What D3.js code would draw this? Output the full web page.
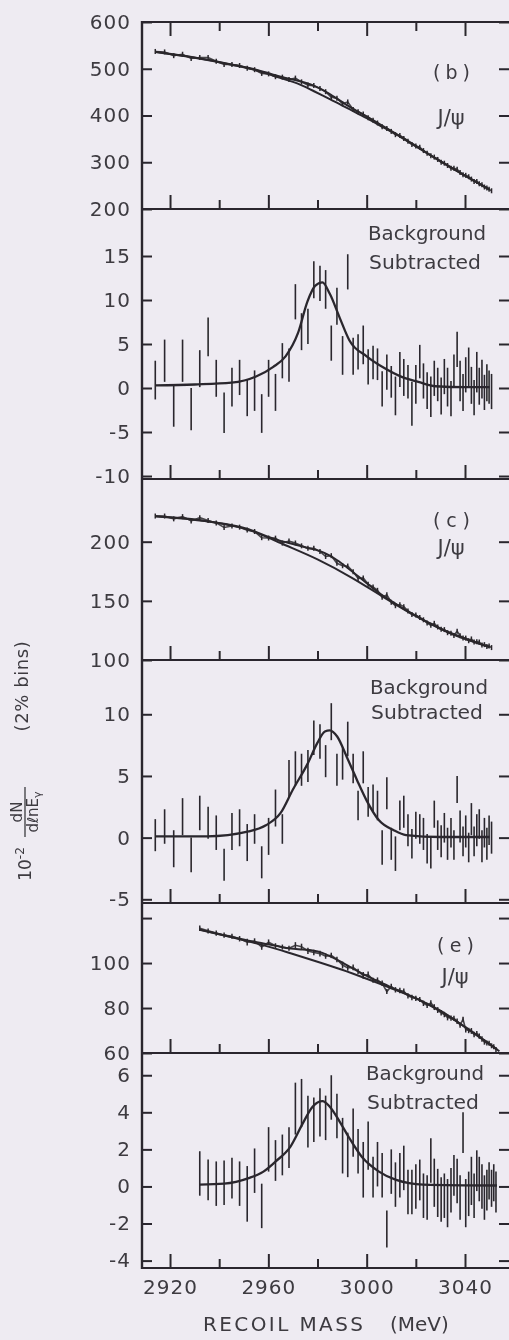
<!DOCTYPE html>
<html><head><meta charset="utf-8">
<script src="https://cdn.jsdelivr.net/npm/d3@7"></script>
<style>
html,body{margin:0;padding:0;background:#eeebf2;}
svg{display:block;}
</style></head><body>
<svg id="chart" width="509" height="1340"></svg>
<script>
// ---------------- DATA ----------------
// x axis ticks (recoil mass, MeV)
const xMajorTicks = [2920, 2960, 3000, 3040];
const xMinorTicks = [2940, 2980, 3020];
// y tick values / labels
const yTicksB = [200, 300, 400, 500, 600];
const yTicksBSub = [-10, -5, 0, 5, 10, 15];
const yTicksC = [100, 150, 200];
const yTicksCSub = [-5, 0, 5, 10];
const yTicksE = [60, 80, 100, 120];
const yLabelsE = [60, 80, 100];
const yTicksESub = [-4, -2, 0, 2, 4, 6];
const panelTags = ["(b)", "(c)", "(e)"];

// bin centres (2% bins in photon energy), samples (b) and (c)
const massBC = [
 2914.0, 2917.8, 2921.5, 2925.1, 2928.6, 2932.1, 2935.5, 2938.8, 2942.0, 2945.2,
 2948.3, 2951.4, 2954.4, 2957.3, 2960.1, 2962.9, 2965.7, 2968.4, 2971.0, 2973.5,
 2976.1, 2978.5, 2981.0, 2983.3, 2985.6, 2987.9, 2990.2, 2992.3, 2994.5, 2996.5,
 2998.6, 3000.6, 3002.6, 3004.4, 3006.3, 3008.2, 3010.0, 3011.7, 3013.5, 3015.1,
 3016.8, 3018.4, 3020.0, 3021.6, 3023.1, 3024.6, 3026.1, 3027.5, 3028.9, 3030.3,
 3031.6, 3032.9, 3034.3, 3035.5, 3036.8, 3038.0, 3039.2, 3040.3, 3041.5, 3042.6,
 3043.7, 3044.8, 3045.8, 3046.9, 3047.9, 3048.9, 3049.8, 3050.8];
// bin centres, sample (e)
const massE = [
 2932.1, 2935.5, 2938.8, 2942.0, 2945.2, 2948.3, 2951.4, 2954.4, 2957.3, 2960.1,
 2962.9, 2965.7, 2968.4, 2971.0, 2973.5, 2976.1, 2978.5, 2981.0, 2983.3, 2985.6,
 2987.9, 2990.2, 2992.3, 2994.5, 2996.5, 2998.6, 3000.6, 3002.6, 3004.4, 3006.3,
 3008.2, 3010.0, 3011.7, 3013.5, 3015.1, 3016.8, 3018.4, 3020.0, 3021.6, 3023.1,
 3024.6, 3026.1, 3027.5, 3028.9, 3030.3, 3031.6, 3032.9, 3034.3, 3035.5, 3036.8,
 3038.0, 3039.2, 3040.3, 3041.5, 3042.6, 3043.7, 3044.8, 3045.8, 3046.9, 3047.9,
 3048.9, 3049.8, 3050.8, 3051.7, 3052.6];

// (b) raw spectrum
const rawB = [
 537, 536, 528, 531, 522, 524, 524, 516, 509, 509,
 507, 501, 498, 490, 489, 483, 482, 477, 480, 472,
 465, 464, 458, 451, 439, 437, 425, 429, 413, 408,
 403, 395, 390, 384, 376, 372, 366, 359, 357, 351,
 345, 338, 335, 332, 325, 319, 314, 311, 306, 300,
 298, 293, 287, 287, 285, 278, 273, 272, 269, 264,
 259, 259, 254, 252, 247, 245, 242, 239];
// (b) background subtracted
const subB = [
 0.9, 3.1, -2.0, 3.1, -2.4, 2.2, 5.8, 1.1, -2.8, 0.1,
 1.2, -1.1, -0.3, -2.9, 1.1, -0.5, 3.1, 2.6, 9.8, 6.4,
 7.0, 12.3, 11.9, 11.2, 5.1, 9.3, 3.7, 13.2, 3.6, 4.1,
 4.9, 2.4, 2.9, 2.7, -0.1, 1.8, 0.7, -0.9, 2.1, 1.2,
 0.7, -1.8, 0.4, 3.0, 0.8, -0.3, -1.0, 1.1, 0.4, -0.9,
 1.3, 0.1, -1.2, 1.9, 4.4, 0.8, -0.5, 1.5, 2.4, 0.3,
 -1.1, 1.8, 0.2, 1.0, -0.5, 0.6, 0.1, -0.4];
const errB = [
 2.2, 2.4, 2.4, 2.4, 2.4, 2.1, 2.2, 2.1, 2.3, 2.2,
 2.0, 2.1, 2.3, 2.2, 2.1, 2.1, 2.0, 1.9, 2.0, 2.1,
 2.0, 2.1, 2.0, 2.2, 2.0, 2.1, 2.2, 2.0, 2.1, 2.0,
 2.2, 2.0, 1.9, 1.8, 2.0, 2.0, 1.8, 2.2, 2.0, 2.1,
 1.9, 2.5, 2.2, 1.9, 2.0, 2.1, 2.3, 2.0, 1.9, 2.1,
 2.0, 2.2, 2.0, 1.9, 2.0, 2.3, 2.1, 2.0, 2.2, 2.1,
 2.0, 2.3, 2.1, 2.2, 2.0, 2.1, 1.9, 2.0];
// (b) fit curves
const fitMassB = [2914, 2930, 2945, 2955, 2962, 2967, 2972, 2976, 2979, 2982, 2985, 2989, 2993, 3000, 3007, 3014, 3021, 3028, 3040, 3050];
const fitB   = [0.3, 0.4, 0.6, 1.3, 2.4, 3.6, 6.2, 9.9, 11.6, 12.0, 10.7, 8.0, 5.4, 3.6, 2.3, 1.3, 0.7, 0.2, 0.1, 0.1];
const totalB = [536.3, 524.0, 509.3, 498.1, 487.5, 480.3, 474.5, 468.5, 462.4, 455.0, 445.9, 432.3, 418.8, 397.9, 376.2, 354.7, 331.6, 308.7, 271.5, 241.4];
const bgMassB = [2914, 2930, 2945, 2955, 2962, 2967, 2972, 2976, 2979, 2982, 2985, 2989, 2993, 3000, 3007, 3014, 3021, 3028, 3040, 3050];
const bgB    = [536.0, 523.6, 508.7, 496.8, 485.1, 476.7, 468.3, 458.6, 450.8, 443.0, 435.2, 424.3, 413.4, 394.3, 373.9, 353.4, 330.9, 308.5, 271.4, 241.3];

// (c) raw spectrum
const rawC = [
 221.7, 221.7, 219.3, 221.2, 217.5, 220.3, 218.0, 215.9, 212.0, 213.3,
 212.3, 209.8, 208.6, 203.4, 203.1, 203.0, 198.8, 200.5, 198.9, 196.5,
 194.4, 194.5, 191.7, 187.5, 188.2, 181.8, 179.7, 179.4, 174.5, 168.9,
 169.4, 164.0, 161.8, 158.9, 153.1, 155.1, 148.8, 145.9, 146.8, 145.1,
 141.5, 138.4, 138.0, 136.0, 134.0, 131.2, 129.4, 131.0, 127.9, 125.9,
 125.7, 123.1, 122.7, 120.8, 124.4, 120.5, 118.5, 118.5, 116.3, 117.8,
 115.3, 115.4, 115.2, 112.6, 113.0, 111.4, 111.8, 110.5];
const subC = [
 0.2, 0.9, -0.9, 1.7, -1.4, 2.0, 1.2, 0.4, -2.2, 0.5,
 0.8, -0.4, 0.7, -2.0, 0.1, 2.4, 0.7, 4.8, 5.6, 5.5,
 5.8, 8.1, 7.8, 6.2, 9.4, 5.5, 6.0, 8.0, 5.6, 2.6,
 5.7, 2.9, 3.2, 2.6, -0.8, 3.6, -0.5, -1.3, 1.8, 2.1,
 0.6, -0.5, 1.0, 0.7, 0.3, -0.9, -1.2, 1.9, 0.2, -0.3,
 0.8, -0.5, 0.4, -0.6, 3.9, 0.9, -0.3, 0.5, -0.8, 1.5,
 -0.3, 0.6, 1.1, -0.7, 0.4, -0.5, 0.6, 0.0];
const errC = [
 1.3, 1.4, 1.5, 1.5, 1.4, 1.4, 1.3, 1.4, 1.3, 1.5,
 1.5, 1.5, 1.2, 1.3, 1.5, 1.5, 1.2, 1.5, 1.4, 1.3,
 1.3, 1.4, 1.4, 1.3, 1.5, 1.3, 1.3, 1.4, 1.2, 1.2,
 1.3, 1.2, 1.1, 1.2, 1.4, 1.3, 1.3, 1.4, 1.2, 1.3,
 1.3, 1.2, 1.1, 1.2, 1.3, 1.2, 1.3, 1.1, 1.2, 1.3,
 1.2, 1.3, 1.2, 1.2, 1.1, 1.3, 1.2, 1.3, 1.2, 1.3,
 1.2, 1.3, 1.2, 1.3, 1.2, 1.3, 1.2, 1.3];
const fitMassC = [2914, 2935, 2952, 2959, 2965, 2970, 2976, 2980, 2983, 2985, 2988, 2992, 2996, 3000, 3005, 3011, 3016, 3030, 3050];
const fitC   = [0.1, 0.1, 0.5, 1.0, 2.0, 3.9, 6.0, 7.7, 8.6, 8.7, 8.2, 6.5, 4.7, 3.0, 1.4, 0.6, 0.2, 0.05, 0.05];
const totalC = [221.6, 217.2, 210.5, 204.9, 200.7, 198.1, 194.7, 192.7, 190.3, 188.2, 184.3, 178.2, 171.7, 164.9, 156.9, 148.7, 142.1, 126.65, 111.05];
const bgMassC = [2914, 2932, 2952, 2967, 2980, 2994, 3007, 3020, 3034, 3050];
const bgC    = [221.5, 218.3, 210.0, 197.0, 185.0, 169.5, 153.0, 137.0, 122.5, 111.0];

// (e) raw spectrum
const rawE = [
 115.5, 114.3, 113.3, 112.4, 111.9, 110.8, 109.3, 109.8, 107.1, 109.3,
 107.7, 107.1, 106.6, 107.9, 107.3, 105.4, 104.7, 104.2, 103.1, 103.4,
 101.6, 99.1, 97.8, 98.1, 96.3, 94.5, 94.9, 92.4, 92.4, 91.0,
 87.3, 89.6, 88.1, 87.8, 87.5, 85.4, 84.7, 84.3, 83.8, 82.1,
 81.2, 82.3, 80.4, 79.1, 77.9, 77.1, 75.8, 75.5, 75.4, 74.1,
 72.4, 75.0, 70.4, 70.0, 69.8, 68.2, 68.7, 67.5, 66.2, 64.9,
 64.5, 64.3, 63.2, 62.8, 61.6];
const subE = [
 0.7, 0.35, 0.15, 0.2, 0.45, 0.15, -0.4, 0.85, -1.05, 2.0,
 1.4, 1.7, 2.1, 4.2, 4.5, 3.5, 3.6, 4.0, 3.7, 4.8,
 3.8, 2.2, 1.7, 2.9, 1.9, 0.9, 2.2, 0.5, 1.2, 0.6,
 -2.3, 0.8, 0.1, 0.6, 1.0, -0.3, -0.3, 0.0, 0.35, -0.5,
 -0.6, 1.4, 0.2, -0.35, -0.7, -0.5, -0.9, -0.2, 0.6, 0.3,
 -0.6, 2.9, -0.9, -0.4, 0.3, -0.5, 0.85, 0.4, 0.0, -0.6,
 -0.2, 0.3, -0.1, 0.2, -0.3];
const errE = [
 1.2, 1.1, 1.2, 1.2, 1.1, 1.2, 1.5, 1.2, 1.2, 1.2,
 1.1, 1.1, 1.1, 1.4, 1.3, 1.4, 1.2, 1.3, 1.2, 1.2,
 1.2, 1.5, 1.2, 1.3, 1.2, 1.5, 1.3, 1.1, 1.2, 1.2,
 1.0, 1.2, 1.2, 1.2, 1.2, 1.2, 1.2, 1.2, 1.1, 1.2,
 1.2, 1.2, 1.3, 1.3, 1.2, 1.2, 1.3, 1.2, 1.1, 1.2,
 1.2, 1.1, 1.3, 1.2, 1.3, 1.2, 1.1, 1.2, 1.2, 1.2,
 1.1, 1.0, 1.0, 1.0, 1.1];
const fitMassE = [2932, 2942, 2952, 2958, 2963, 2969, 2974, 2978, 2982, 2985, 2989, 2993, 2998, 3005, 3012, 3023, 3053];
const fitE   = [0.1, 0.15, 0.45, 0.8, 1.35, 2.15, 3.4, 4.3, 4.6, 4.3, 3.5, 2.6, 1.6, 0.8, 0.35, 0.1, 0.05];
const totalE = [114.9, 112.35, 109.95, 108.7, 107.65, 106.45, 106.0, 105.6, 104.5, 103.1, 100.9, 98.4, 95.4, 91.7, 88.25, 82.75, 61.65];
const bgMassE = [2932, 2946, 2960, 2970, 2980, 2990, 3000, 3010, 3020, 3030, 3040, 3054];
const bgE    = [114.8, 111.2, 107.3, 104.0, 100.6, 97.0, 93.0, 88.8, 84.3, 78.8, 71.5, 60.8];

// ---------------- DRAWING ----------------
const W = 509, H = 1340;
const INK = "#2a282d", TXT = "#3c3a40", BG = "#eeebf2";
const FONT = "DejaVu Sans";
const LEFT = 142, RIGHT = 509;

const svg = d3.select("#chart");
svg.append("rect").attr("width", W).attr("height", H).attr("fill", BG);
const defs = svg.append("defs");
defs.append("filter").attr("id", "soft").append("feGaussianBlur").attr("stdDeviation", 0.35);

const x = d3.scaleLinear().domain([2908.6, 3057.9]).range([LEFT, RIGHT]);

const layout = [
  {top: 22,   bot: 209,  dom: [200, 600]},
  {top: 209,  bot: 479,  dom: [-10.34, 20.34]},
  {top: 479,  bot: 660,  dom: [100, 253]},
  {top: 660,  bot: 903,  dom: [-5.3, 14.4]},
  {top: 903,  bot: 1053, dom: [60, 126.7]},
  {top: 1053, bot: 1268, dom: [-4.4, 7.2]}
];

const sets = [
  {mass: massBC, raw: rawB, sub: subB, err: errB, bgM: bgMassB, bg: bgB, fitM: fitMassB, fit: fitB, tot: totalB,
   rawTicks: yTicksB, rawLabels: yTicksB, subTicks: yTicksBSub, subLabels: yTicksBSub, tag: panelTags[0]},
  {mass: massBC, raw: rawC, sub: subC, err: errC, bgM: bgMassC, bg: bgC, fitM: fitMassC, fit: fitC, tot: totalC,
   rawTicks: yTicksC, rawLabels: yTicksC, subTicks: yTicksCSub, subLabels: yTicksCSub, tag: panelTags[1]},
  {mass: massE, raw: rawE, sub: subE, err: errE, bgM: bgMassE, bg: bgE, fitM: fitMassE, fit: fitE, tot: totalE,
   rawTicks: yTicksE, rawLabels: yLabelsE, subTicks: yTicksESub, subLabels: yTicksESub, tag: panelTags[2]}
];
// label placements (pixel layout)
const tagPos = [[451, 72, 118], [451, 520, 548], [455, 945, 977]];
const subTextPos = [[368, 233, 262], [370, 687, 712], [366, 1073, 1102]];

const plot = svg.append("g").attr("filter", "url(#soft)");

function styleAxis(g, showText) {
  g.select(".domain").remove();
  g.selectAll("line").attr("stroke", INK).attr("stroke-width", 2);
  g.selectAll("text").attr("fill", TXT).attr("font-family", FONT).attr("font-size", 20)
    .attr("letter-spacing", 1).style("display", showText ? null : "none");
}

function yAxes(y, ticks, labels) {
  const gl = plot.append("g").attr("transform", `translate(${LEFT},0)`)
    .call(d3.axisLeft(y).tickValues(ticks).tickSizeInner(-10).tickSizeOuter(0).tickPadding(11)
      .tickFormat(d => labels.includes(d) ? String(d) : ""));
  styleAxis(gl, true);
  const gr = plot.append("g").attr("transform", `translate(${RIGHT + 2},0)`)
    .call(d3.axisRight(y).tickValues(ticks).tickSizeInner(-12).tickSizeOuter(0).tickFormat(""));
  styleAxis(gr, false);
}

function xTicks(yPix, dirUp, withLabels) {
  const mk = dirUp ? d3.axisBottom : d3.axisTop;
  const gM = plot.append("g").attr("transform", `translate(0,${yPix})`)
    .call(mk(x).tickValues(xMajorTicks).tickSizeInner(-14).tickSizeOuter(0).tickPadding(12)
      .tickFormat(d3.format("d")));
  styleAxis(gM, withLabels);
  const gm = plot.append("g").attr("transform", `translate(0,${yPix})`)
    .call(mk(x).tickValues(xMinorTicks).tickSizeInner(-9).tickSizeOuter(0).tickFormat(""));
  styleAxis(gm, false);
}

sets.forEach((s, i) => {
  const Lr = layout[2 * i], Ls = layout[2 * i + 1];
  const yr = d3.scaleLinear().domain(Lr.dom).range([Lr.bot, Lr.top]);
  const ys = d3.scaleLinear().domain(Ls.dom).range([Ls.bot, Ls.top]);

  [[Lr, "r"], [Ls, "s"]].forEach(([L, k]) => {
    defs.append("clipPath").attr("id", `clip${i}${k}`).append("rect")
      .attr("x", LEFT).attr("y", L.top).attr("width", RIGHT - LEFT).attr("height", L.bot - L.top);
  });

  // ---- raw spectrum panel ----
  const gr = plot.append("g").attr("clip-path", `url(#clip${i}r)`);
  const line = (yy) => d3.line().x(d => x(d[0])).y(d => yy(d[1])).curve(d3.curveMonotoneX);
  gr.append("path").datum(d3.zip(s.bgM, s.bg)).attr("d", line(yr))
    .attr("fill", "none").attr("stroke", INK).attr("stroke-width", 2);
  gr.append("path").datum(d3.zip(s.fitM, s.tot)).attr("d", line(yr))
    .attr("fill", "none").attr("stroke", INK).attr("stroke-width", 2);
  const rawPts = d3.zip(s.mass, s.raw, s.err);
  gr.selectAll("line.pt").data(rawPts).join("line").attr("class", "pt")
    .attr("x1", d => x(d[0])).attr("x2", d => x(d[0]))
    .attr("y1", d => Math.min(yr(d[1] + d[2]), yr(d[1]) - 2.5))
    .attr("y2", d => Math.max(yr(d[1] - d[2]), yr(d[1]) + 2.5))
    .attr("stroke", INK).attr("stroke-width", 1.5);
  gr.append("path").datum(d3.zip(s.mass, s.raw)).attr("d", d3.line().x(d => x(d[0])).y(d => yr(d[1])))
    .attr("fill", "none").attr("stroke", INK).attr("stroke-width", 1.6).attr("stroke-opacity", 0.85);

  // ---- background-subtracted panel ----
  const gs = plot.append("g").attr("clip-path", `url(#clip${i}s)`);
  const subPts = d3.zip(s.mass, s.sub, s.err);
  gs.selectAll("line.eb").data(subPts).join("line").attr("class", "eb")
    .attr("x1", d => x(d[0])).attr("x2", d => x(d[0]))
    .attr("y1", d => ys(d[1] + d[2])).attr("y2", d => ys(d[1] - d[2]))
    .attr("stroke", INK).attr("stroke-width", 1.6);
  gs.append("path").datum(d3.zip(s.fitM, s.fit)).attr("d", line(ys))
    .attr("fill", "none").attr("stroke", INK).attr("stroke-width", 2.3);

  // ---- axes ----
  yAxes(yr, s.rawTicks, s.rawLabels);
  yAxes(ys, s.subTicks, s.subLabels);
  xTicks(Lr.bot, true, false);
  xTicks(Ls.bot, true, i === 2);

  // ---- labels ----
  const tp = tagPos[i];
  plot.append("text").attr("x", tp[0] - 18).attr("y", tp[1]).attr("dominant-baseline", "central")
    .attr("font-family", FONT).attr("font-size", 19).attr("fill", TXT)
    .attr("textLength", 37).attr("lengthAdjust", "spacing").text(s.tag);
  plot.append("text").attr("x", tp[0]).attr("y", tp[2]).attr("dominant-baseline", "central")
    .attr("text-anchor", "middle").attr("font-family", FONT).attr("font-size", 21).attr("fill", TXT)
    .text("J/ψ");
  const sp = subTextPos[i];
  plot.append("text").attr("x", sp[0]).attr("y", sp[1]).attr("dominant-baseline", "central")
    .attr("font-family", FONT).attr("font-size", 19).attr("fill", TXT)
    .attr("textLength", 118).attr("lengthAdjust", "spacingAndGlyphs").text("Background");
  plot.append("text").attr("x", sp[0] + 1).attr("y", sp[2]).attr("dominant-baseline", "central")
    .attr("font-family", FONT).attr("font-size", 19).attr("fill", TXT)
    .attr("textLength", 112).attr("lengthAdjust", "spacingAndGlyphs").text("Subtracted");
});

// top axis ticks of first panel
xTicks(layout[0].top, false, false);

// frame
plot.append("line").attr("x1", LEFT).attr("x2", LEFT).attr("y1", layout[0].top - 1).attr("y2", layout[5].bot + 1)
  .attr("stroke", INK).attr("stroke-width", 2.4);
const bounds = [layout[0].top].concat(layout.map(L => L.bot));
plot.selectAll("line.frame").data(bounds).join("line").attr("class", "frame")
  .attr("x1", LEFT - 1).attr("x2", RIGHT).attr("y1", d => d).attr("y2", d => d)
  .attr("stroke", INK).attr("stroke-width", 2.2);

// x-axis title
plot.append("text").attr("x", 203).attr("y", 1324).attr("dominant-baseline", "central")
  .attr("font-family", FONT).attr("font-size", 20).attr("fill", TXT)
  .attr("textLength", 160).attr("lengthAdjust", "spacing").text("RECOIL MASS");
plot.append("text").attr("x", 390).attr("y", 1324).attr("dominant-baseline", "central")
  .attr("font-family", FONT).attr("font-size", 20).attr("fill", TXT)
  .text("(MeV)");

// y-axis title (rotated)
const t1 = plot.append("g").attr("transform", "translate(22,686) rotate(-90)");
t1.append("text").attr("x", 0).attr("y", 6).attr("text-anchor", "middle")
  .attr("font-family", FONT).attr("font-size", 18).attr("fill", TXT).attr("letter-spacing", 0.6).text("(2% bins)");
const t2 = plot.append("g").attr("transform", "translate(25,812) rotate(-90)");
t2.append("text").attr("x", 0).attr("y", -3).attr("text-anchor", "middle")
  .attr("font-family", FONT).attr("font-size", 15).attr("fill", TXT).text("dN");
t2.append("line").attr("x1", -25).attr("x2", 25).attr("y1", 0).attr("y2", 0)
  .attr("stroke", TXT).attr("stroke-width", 1.3);
const den = t2.append("text").attr("x", 0).attr("y", 13).attr("text-anchor", "middle")
  .attr("font-family", FONT).attr("font-size", 15).attr("fill", TXT);
den.append("tspan").text("dℓnE");
den.append("tspan").attr("font-size", 11).attr("dy", 3).text("γ");
const t3 = plot.append("g").attr("transform", "translate(25,864) rotate(-90)");
const tt = t3.append("text").attr("x", 0).attr("y", 6).attr("text-anchor", "middle")
  .attr("font-family", FONT).attr("font-size", 17).attr("fill", TXT);
tt.append("tspan").text("10");
tt.append("tspan").attr("font-size", 12).attr("dy", -7).text("-2");
</script>
</body></html>
